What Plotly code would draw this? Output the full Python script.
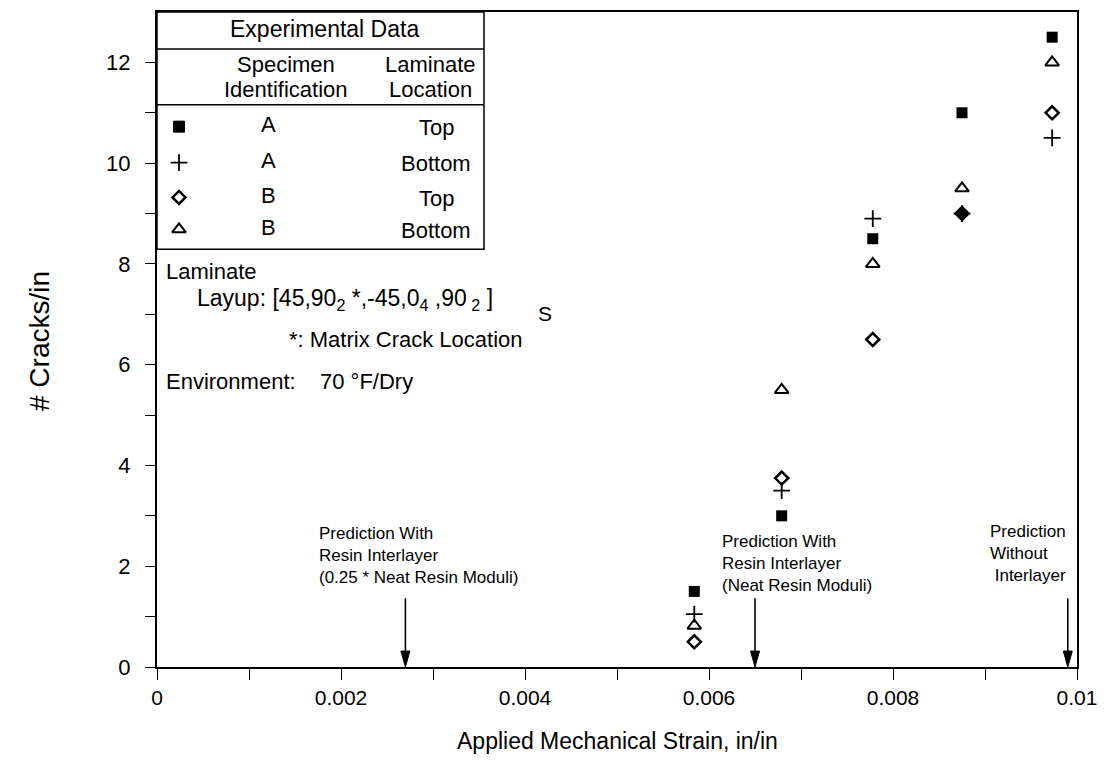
import plotly.graph_objects as go

# ---------------- data ----------------
strain = [0.00584, 0.00679, 0.00778, 0.00875, 0.00973]
a_top = [1.5, 3.0, 8.5, 11.0, 12.5]        # filled square
a_bottom = [1.05, 3.5, 8.9, 9.0, 10.5]     # plus
b_top = [0.5, 3.75, 6.5, 9.0, 11.0]        # diamond
b_bottom = [0.82, 5.5, 8.0, 9.5, 12.0]     # triangle

prediction_strain = [0.0027, 0.0065, 0.0099]
prediction_labels = [
    "Prediction With<br>Resin Interlayer<br>(0.25 * Neat Resin Moduli)",
    "Prediction With<br>Resin Interlayer<br>(Neat Resin Moduli)",
    "Prediction<br>Without<br>\u00a0Interlayer",
]

legend_symbols = ["square", "cross-thin-open", "diamond-open", "triangle-up-open"]
legend_specimen = ["A", "A", "B", "B"]
legend_location = ["Top", "Bottom", "Top", "Bottom"]

y_tick_vals = [0, 2, 4, 6, 8, 10, 12]
y_minor_vals = [1, 3, 5, 7, 9, 11]
x_tick_vals = [0, 0.002, 0.004, 0.006, 0.008, 0.01]
x_tick_text = ["0", "0.002", "0.004", "0.006", "0.008", "0.01"]
x_minor_vals = [0.001, 0.003, 0.005, 0.007, 0.009]

# ---------------- geometry helpers (window pixel -> data) ----------------
WIN_W, WIN_H = 1113, 773
BODY = 8                       # default page margin around the plot div
FIG_W, FIG_H = WIN_W - 2 * BODY, WIN_H - 2 * BODY
PL, PR, PT, PB = 157, 1077, 10, 667   # plot area in window pixels
XMAX, YMAX = 0.01, 13.0


def px_x(p):
    return (p - PL) / (PR - PL) * XMAX


def px_y(p):
    return (PB - p) / (PB - PT) * YMAX


def paper_x(p):
    return (p - PL) / (PR - PL)


def paper_y(p):
    return (PB - p) / (PB - PT)


FONT = "Liberation Sans, Arial, Helvetica, sans-serif"
BLACK = "#000000"

marker_styles = {
    "square": dict(symbol="square", size=11, color=BLACK, line=dict(width=0)),
    "cross-thin-open": dict(symbol="cross-thin-open", size=12, color=BLACK, line=dict(width=1.8, color=BLACK)),
    "diamond-open": dict(symbol="diamond-open", size=10, color=BLACK, line=dict(width=2.5, color=BLACK)),
    "triangle-up-open": dict(symbol="triangle-up-open", size=12, color=BLACK, line=dict(width=2, color=BLACK)),
}

fig = go.Figure()

series = [
    ("A Top", a_top, "square"),
    ("A Bottom", a_bottom, "cross-thin-open"),
    ("B Top", b_top, "diamond-open"),
    ("B Bottom", b_bottom, "triangle-up-open"),
]
for name, vals, sym in series:
    m = dict(marker_styles[sym])
    if sym == "diamond-open":
        # where the plus falls inside the diamond the mark prints solid
        m["symbol"] = ["diamond" if v in a_bottom else "diamond-open" for v in vals]
    fig.add_trace(go.Scatter(x=strain, y=vals, mode="markers", name=name,
                             marker=m, showlegend=False, hoverinfo="skip"))

# legend table symbols
row_py = [125, 161, 196, 228]
fig.add_trace(go.Scatter(
    x=[px_x(179)] * len(legend_symbols),
    y=[px_y(p) for p in row_py],
    mode="markers", showlegend=False, hoverinfo="skip",
    marker=dict(symbol=legend_symbols, size=[11, 12, 10, 12], color=BLACK, opacity=1,
                line=dict(width=[1, 1.8, 2.5, 2], color=BLACK)),
))

annotations = []


def txt(text, x, y, size=22, xanchor="center", yanchor="middle", align="center"):
    annotations.append(dict(text=text, x=x, y=y, xref="x", yref="y", showarrow=False,
                            xanchor=xanchor, yanchor=yanchor, align=align,
                            font=dict(family=FONT, size=size, color=BLACK)))


# table
TR = 484
txt("Experimental Data", px_x(324), px_y(27), size=23)
txt("Specimen", px_x(286), px_y(63))
txt("Identification", px_x(286), px_y(88))
txt("Laminate", px_x(430), px_y(63))
txt("Location", px_x(430), px_y(88))
for i in range(len(legend_specimen)):
    txt(legend_specimen[i], px_x(268), px_y(row_py[i] - 2))
    txt(legend_location[i], px_x(436), px_y(row_py[i] + 1))

# text block
txt("Laminate", px_x(164), px_y(270), xanchor="left")
txt("Layup: [45,90<sub>2</sub> *,-45,0<sub>4</sub> ,90<sub> 2</sub> ]", px_x(195), px_y(298),
    size=23, xanchor="left")
txt("S", px_x(545), px_y(312), size=21, xanchor="center")
txt("*: Matrix Crack Location", px_x(287), px_y(338), xanchor="left")
txt("Environment:", px_x(164), px_y(381), xanchor="left")
txt("70 °F/Dry", px_x(318), px_y(381), xanchor="left")

# prediction labels
label_px = [(317, 555), (720, 563), (988, 553)]
for i, lab in enumerate(prediction_labels):
    txt(lab, px_x(label_px[i][0]), px_y(label_px[i][1]), size=17, xanchor="left", align="left")

# arrows (shaft + long narrow head), built from the prediction strains
shapes = []
head_half = 4.5 / (PR - PL) * XMAX
for xs in prediction_strain:
    shapes.append(dict(type="line", xref="x", yref="y", x0=xs, x1=xs, y0=px_y(598), y1=px_y(655),
                       line=dict(color=BLACK, width=1.6)))
    shapes.append(dict(type="path", xref="x", yref="y",
                       path=f"M {xs - head_half},{px_y(651)} L {xs + head_half},{px_y(651)} L {xs},0 Z",
                       fillcolor=BLACK, line=dict(color=BLACK, width=1)))

# axis titles
annotations.append(dict(text="# Cracks/in", x=paper_x(40), y=paper_y(340), xref="paper", yref="paper",
                        showarrow=False, textangle=-90, xanchor="center", yanchor="middle",
                        font=dict(family=FONT, size=28, color=BLACK)))
annotations.append(dict(text="Applied Mechanical Strain, in/in", x=0.5, y=paper_y(741), xref="paper",
                        yref="paper", showarrow=False, xanchor="center", yanchor="middle",
                        font=dict(family=FONT, size=23, color=BLACK)))

shapes += [
    dict(type="rect", xref="x", yref="y", x0=0, x1=px_x(TR), y0=px_y(248), y1=YMAX,
         line=dict(color=BLACK, width=1.5)),
    dict(type="line", xref="x", yref="y", x0=0, x1=px_x(TR), y0=px_y(47), y1=px_y(47),
         line=dict(color=BLACK, width=1.5)),
    dict(type="line", xref="x", yref="y", x0=0, x1=px_x(TR), y0=px_y(103), y1=px_y(103),
         line=dict(color=BLACK, width=1.5)),
]

fig.update_layout(
    width=FIG_W, height=FIG_H,
    margin=dict(l=PL - BODY, r=(BODY + FIG_W) - PR, t=PT - BODY, b=(BODY + FIG_H) - PB),
    paper_bgcolor="white", plot_bgcolor="white",
    annotations=annotations, shapes=shapes,
    font=dict(family=FONT, color=BLACK),
    showlegend=False,
)
fig.update_xaxes(range=[0, XMAX], showgrid=False, zeroline=False, showline=True,
                 linecolor=BLACK, linewidth=1.5, mirror=True,
                 tickvals=x_tick_vals, ticktext=x_tick_text, ticks="outside",
                 ticklen=11, tickwidth=1.2, tickcolor=BLACK,
                 tickfont=dict(family=FONT, size=21, color=BLACK),
                 minor=dict(tickvals=x_minor_vals, ticks="outside", ticklen=11,
                            tickwidth=1.2, tickcolor=BLACK))
fig.update_yaxes(range=[0, YMAX], showgrid=False, zeroline=False, showline=True,
                 linecolor=BLACK, linewidth=2, mirror=True,
                 tickvals=y_tick_vals, ticks="outside",
                 ticklen=10, tickwidth=1.2, tickcolor=BLACK,
                 ticklabelstandoff=10,
                 tickfont=dict(family=FONT, size=22, color=BLACK),
                 minor=dict(tickvals=y_minor_vals, ticks="outside", ticklen=10,
                            tickwidth=1.2, tickcolor=BLACK))

fig.write_html("out.html")
